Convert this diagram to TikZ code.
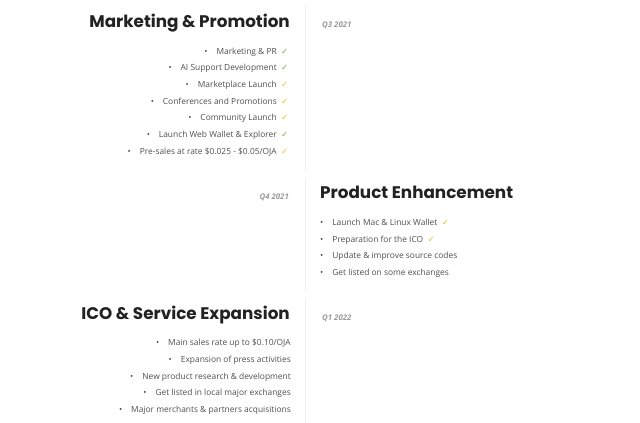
\documentclass[tikz,border=0pt]{standalone}
\usepackage{fontspec}
\setmainfont{Open Sans}
\newfontfamily\titlefont{Poppins}
\newfontfamily\symfont{DejaVu Sans}
\definecolor{titlecol}{HTML}{222222}
\definecolor{itemcol}{HTML}{505050}
\definecolor{qcol}{HTML}{9A9A9A}
\definecolor{linecol}{HTML}{EFEFEF}
\definecolor{okgreen}{HTML}{7CB342}
\definecolor{okyellow}{HTML}{E6C52E}
\tikzset{
  titleR/.style={anchor=mid east, inner sep=0pt, text=titlecol, font=\titlefont\bfseries\fontsize{16.8}{20}\selectfont},
  titleL/.style={anchor=mid west, inner sep=0pt, text=titlecol, font=\titlefont\bfseries\fontsize{16.8}{20}\selectfont},
  itemR/.style={anchor=mid east, inner sep=0pt, text=itemcol, font=\fontsize{8.4}{10}\selectfont},
  itemL/.style={anchor=mid west, inner sep=0pt, text=itemcol, font=\fontsize{8.4}{10}\selectfont},
  qlabel/.style={inner sep=0pt, text=qcol, font=\bfseries\itshape\fontsize{7.8}{9}\selectfont},
  tick/.style={anchor=mid west, inner sep=0pt, font=\symfont\fontsize{8.5}{9}\selectfont},
  sep/.style={draw=linecol, line width=1pt}
}
\newcommand{\bul}{\textbullet\hspace{9pt}}
\begin{document}
\begin{tikzpicture}[x=1pt,y=-1pt]
\useasboundingbox[fill=white] (0,0) rectangle (640,423);
% separators
\coordinate (s1a) at (305,5);   \coordinate (s1b) at (305,170);
\coordinate (s2a) at (305,178); \coordinate (s2b) at (305,290);
\coordinate (s3a) at (305,298); \coordinate (s3b) at (305,423);
\draw[sep] (s1a) -- (s1b);
\draw[sep] (s2a) -- (s2b);
\draw[sep] (s3a) -- (s3b);

% Section 1
\node[titleR] (t1) at (290,25) {Marketing \& Promotion};
\node[qlabel, anchor=mid west] (q1) at (322,25) {Q3 2021};
\node[itemR] (a1) at (277,52) {\bul Marketing \& PR};
\node[itemR] (a2) at (277,68) {\bul AI Support Development};
\node[itemR] (a3) at (277,85) {\bul Marketplace Launch};
\node[itemR] (a4) at (277,102) {\bul Conferences and Promotions};
\node[itemR] (a5) at (277,118) {\bul Community Launch};
\node[itemR] (a6) at (277,135) {\bul Launch Web Wallet \& Explorer};
\node[itemR] (a7) at (277,152) {\bul Pre-sales at rate \$0.025 - \$0.05/OJA};
\node[tick, text=okgreen]  (c1) at ([xshift=4pt]a1.mid east) {✓};
\node[tick, text=okgreen]  (c2) at ([xshift=4pt]a2.mid east) {✓};
\node[tick, text=okyellow] (c3) at ([xshift=4pt]a3.mid east) {✓};
\node[tick, text=okyellow] (c4) at ([xshift=4pt]a4.mid east) {✓};
\node[tick, text=okyellow] (c5) at ([xshift=4pt]a5.mid east) {✓};
\node[tick, text=okgreen]  (c6) at ([xshift=4pt]a6.mid east) {✓};
\node[tick, text=okyellow] (c7) at ([xshift=4pt]a7.mid east) {✓};

% Section 2
\node[qlabel, anchor=mid east] (q2) at (289,197) {Q4 2021};
\node[titleL] (t2) at (320,196) {Product Enhancement};
\node[itemL] (b1) at (320,223) {\bul Launch Mac \& Linux Wallet};
\node[itemL] (b2) at (320,240) {\bul Preparation for the ICO};
\node[itemL] (b3) at (320,256) {\bul Update \& improve source codes};
\node[itemL] (b4) at (320,273) {\bul Get listed on some exchanges};
\node[tick, text=okyellow] (d1) at ([xshift=4pt]b1.mid east) {✓};
\node[tick, text=okyellow] (d2) at ([xshift=4pt]b2.mid east) {✓};

% Section 3
\node[titleR] (t3) at (290,317) {ICO \& Service Expansion};
\node[qlabel, anchor=mid west] (q3) at (322,318) {Q1 2022};
\node[itemR] (e1) at (291,343) {\bul Main sales rate up to \$0.10/OJA};
\node[itemR] (e2) at (291,360) {\bul Expansion of press activities};
\node[itemR] (e3) at (291,377) {\bul New product research \& development};
\node[itemR] (e4) at (291,393) {\bul Get listed in local major exchanges};
\node[itemR] (e5) at (291,410) {\bul Major merchants \& partners acquisitions};
\end{tikzpicture}
\end{document}
